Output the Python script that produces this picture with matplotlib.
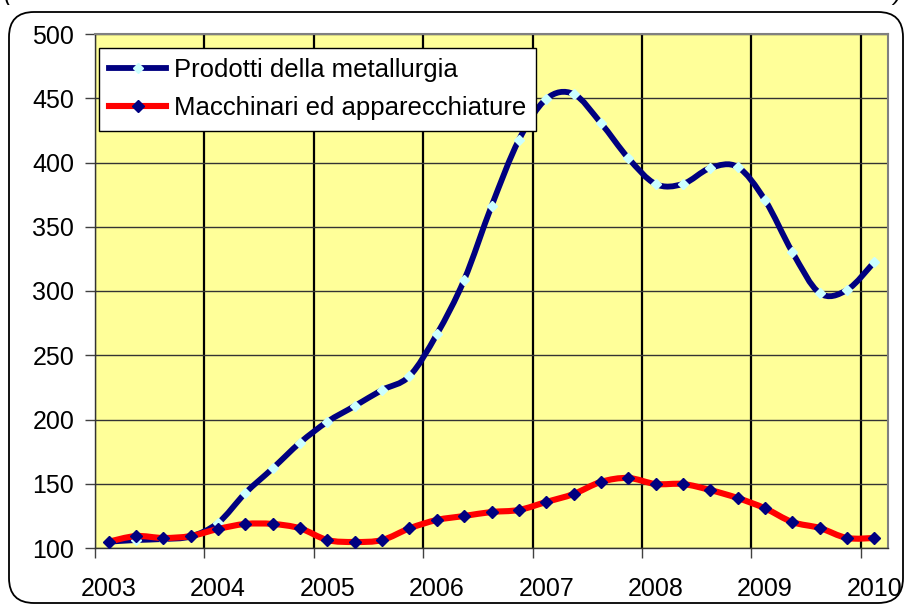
import numpy as np
import matplotlib
matplotlib.use('Agg')
import matplotlib.pyplot as plt
from matplotlib.path import Path
from matplotlib.patches import PathPatch, FancyBboxPatch
from matplotlib.lines import Line2D
from matplotlib.transforms import IdentityTransform

plt.rcParams['font.family'] = ['Liberation Sans', 'DejaVu Sans']

# quarterly index values, 2003 Q1 .. 2010 Q1
years = ['2003', '2004', '2005', '2006', '2007', '2008', '2009', '2010']
metallurgia = [104.9, 106.2, 107.0, 109.0, 119.5, 142.8, 162.0, 182.0,
               198.3, 210.5, 223.0, 233.8, 266.3, 308.6, 366.0, 417.5,
               449.4, 453.3, 430.7, 403.5, 383.3, 383.3, 395.7, 396.5,
               370.8, 330.4, 298.4, 300.8, 322.6]
macchinari = [104.9, 109.3, 107.8, 109.3, 114.8, 118.7, 118.7, 115.3,
              106.2, 104.7, 106.2, 115.3, 121.8, 124.9, 128.0, 129.6,
              135.8, 142.0, 151.4, 154.5, 149.8, 149.8, 145.1, 138.9,
              130.9, 120.2, 115.6, 107.8, 107.8]
labels = ['Prodotti della metallurgia', 'Macchinari ed apparecchiature']


def smooth_path(x, y):
    # excel-like smoothed line: bezier through the data points
    pts = np.column_stack([x, y]).astype(float)
    n = len(pts)
    verts = [pts[0]]
    codes = [Path.MOVETO]
    for i in range(n - 1):
        p0 = pts[max(i - 1, 0)]
        p1 = pts[i]
        p2 = pts[i + 1]
        p3 = pts[min(i + 2, n - 1)]
        verts += [p1 + (p2 - p0) / 6, p2 - (p3 - p1) / 6, p2]
        codes += [Path.CURVE4] * 3
    return Path(verts, codes)


def main():
    fig = plt.figure(figsize=(9.05, 6.05), dpi=100)
    ax = fig.add_axes([95 / 905, 1 - 548 / 605, (888 - 95) / 905, (548 - 34) / 605])
    ax.set_facecolor('#FFFF99')

    x = np.arange(len(metallurgia))
    ax.add_patch(PathPatch(smooth_path(x, metallurgia), facecolor='none', edgecolor='#000080',
                           lw=4.2, zorder=3))
    ax.plot(x, metallurgia, ls='none', marker='D', ms=5.5, mfc='#CCFFFF', mec='#CCFFFF', zorder=4)
    ax.add_patch(PathPatch(smooth_path(x, macchinari), facecolor='none', edgecolor='#FF0000',
                           lw=4.4, zorder=5))
    ax.plot(x, macchinari, ls='none', marker='D', ms=6.5, mfc='#000080', mec='#000080', zorder=6)

    ax.set_xlim(-0.5, len(x) - 0.5)
    ax.set_ylim(100, 500)
    ax.set_yticks(np.arange(100, 501, 50))
    ax.set_xticks(np.arange(-0.5, len(x), 4))
    ax.set_xticks(np.arange(0, len(x), 4), minor=True)
    ax.set_xticklabels(years, minor=True)
    ax.tick_params(axis='x', which='major', labelbottom=False, length=7, width=1, color='#404040')
    ax.tick_params(axis='x', which='minor', length=0, pad=21, labelsize=18)
    ax.tick_params(axis='y', length=7, width=1, color='#404040', pad=8, labelsize=18)

    ax.set_axisbelow(True)
    ax.grid(axis='x', which='major', color='black', lw=1.6)
    ax.grid(axis='y', color='#333333', lw=1.0)
    for s in ['top', 'right']:
        ax.spines[s].set_color('#808080')
        ax.spines[s].set_linewidth(1.5)
    for s in ['left', 'bottom']:
        ax.spines[s].set_color('#333333')
        ax.spines[s].set_linewidth(1.0)

    h1 = Line2D([], [], color='#000080', lw=4.2, marker='D', ms=5.5, mfc='#CCFFFF', mec='#CCFFFF')
    h2 = Line2D([], [], color='#FF0000', lw=4.4, marker='D', ms=6.5, mfc='#000080', mec='#000080')
    leg = ax.legend([h1, h2], labels, loc='upper left', bbox_to_anchor=(99 / 905, 1 - 48 / 605),
                    bbox_transform=fig.transFigure, fontsize=18.5, fancybox=False,
                    edgecolor='black', framealpha=1, borderpad=0.4, labelspacing=0.55,
                    handlelength=2.2, handletextpad=0.3, borderaxespad=0, numpoints=1)
    leg.get_frame().set_linewidth(1.0)
    leg.set_zorder(10)

    # rounded chart border
    border = FancyBboxPatch((9, 2), 894, 591, boxstyle='round,pad=0,rounding_size=25',
                            transform=IdentityTransform(), facecolor='none',
                            edgecolor='black', lw=1.3)
    fig.add_artist(border)

    # bottom edge of the cut-off caption line
    fig.text(0.004, 1.0, '(', va='baseline', fontsize=17, style='italic')
    fig.text(0.996, 1.0, ')', va='baseline', ha='right', fontsize=17, style='italic')

    fig.savefig('out.png', dpi=100)
    plt.close(fig)


if __name__ == '__main__':
    main()
